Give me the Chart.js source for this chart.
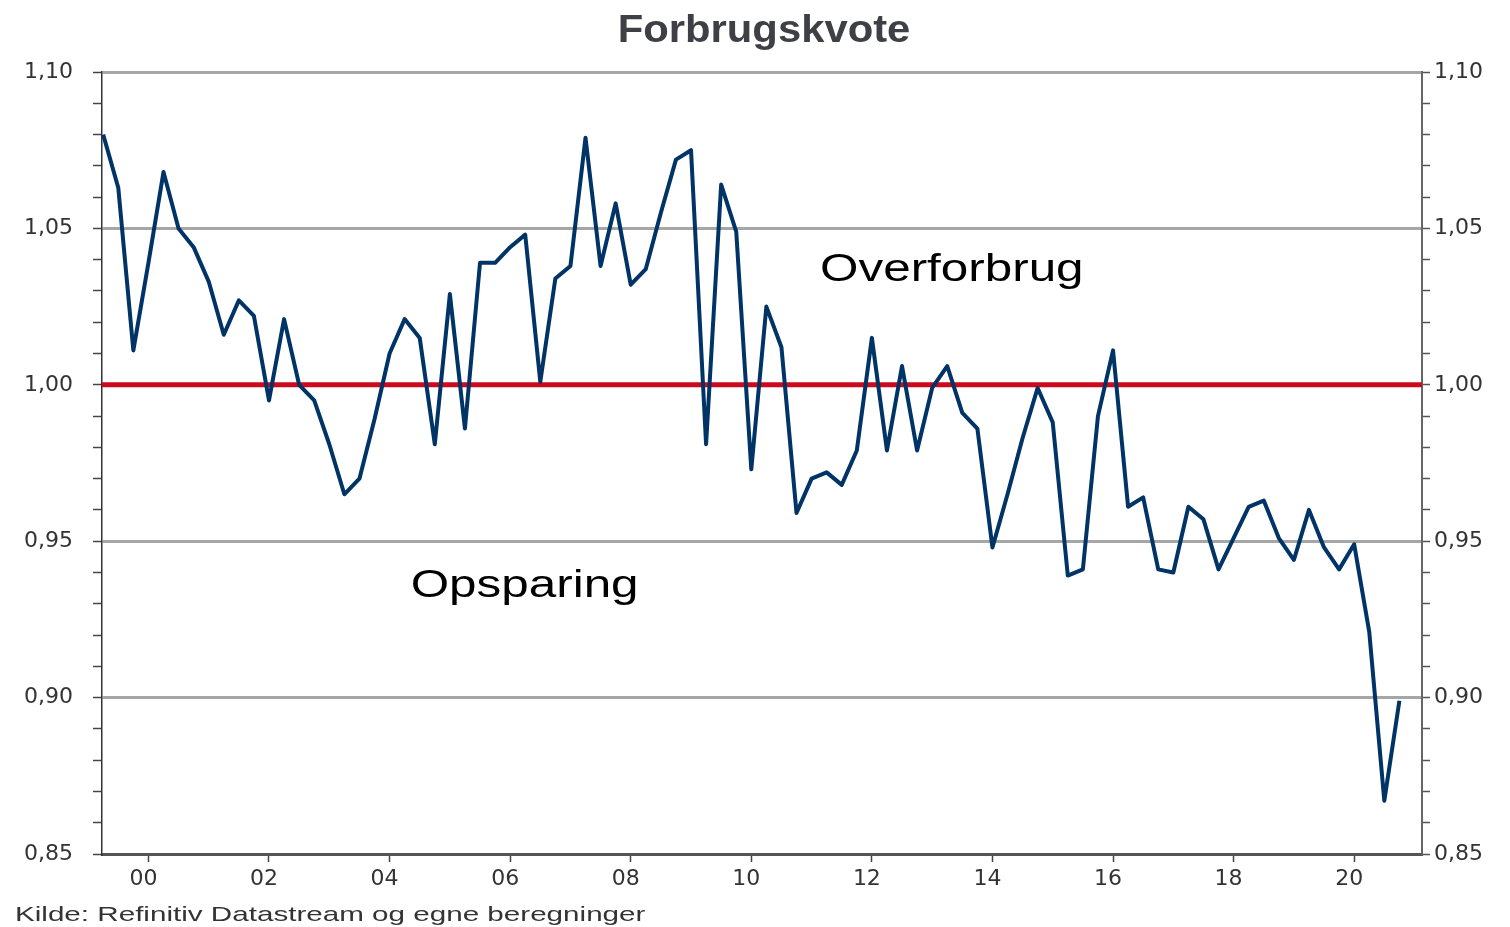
<!DOCTYPE html>
<html>
<head>
<meta charset="utf-8">
<script src="https://cdn.jsdelivr.net/npm/chart.js@4.4.1/dist/chart.umd.min.js"></script>
<style>
  html, body { margin: 0; padding: 0; background: #fff; }
  #wrap { position: relative; width: 1510px; height: 927px; overflow: hidden; }
  #chart { position: absolute; left: 0; top: 0; }
  #title {
    position: absolute; left: 9px; top: 10px; width: 1510px; text-align: center;
    font: bold 38px "Liberation Sans", Arial, sans-serif; line-height: 38px; color: #3f3f46;
  }
  #title span { display: inline-block; transform: scaleX(1.1); }
  #source {
    position: absolute; left: 15px; top: 903px; white-space: nowrap;
    font: 21px "Liberation Sans", Arial, sans-serif; line-height: 21px; color: #333;
    transform: scaleX(1.41); transform-origin: left top;
  }
</style>
</head>
<body>
<div id="wrap">
  <canvas id="chart" width="1510" height="927"></canvas>
  <div id="title"><span>Forbrugskvote</span></div>
  <div id="source">Kilde: Refinitiv Datastream og egne beregninger</div>
</div>
<script>
// kvartalsvis forbrugskvote, første observation 1999K2
const forbrugskvote = [
  1.080, 1.063, 1.011, 1.039, 1.068, 1.050, 1.044, 1.033, 1.016, 1.027,
  1.022, 0.995, 1.021, 1.000, 0.995, 0.981, 0.965, 0.970, 0.989, 1.010,
  1.021, 1.015, 0.981, 1.029, 0.986, 1.039, 1.039, 1.044, 1.048, 1.001,
  1.034, 1.038, 1.079, 1.038, 1.058, 1.032, 1.037, 1.055, 1.072, 1.075,
  0.981, 1.064, 1.049, 0.973, 1.025, 1.012, 0.959, 0.970, 0.972, 0.968,
  0.979, 1.015, 0.979, 1.006, 0.979, 0.999, 1.006, 0.991, 0.986, 0.948,
  0.965, 0.983, 0.999, 0.988, 0.939, 0.941, 0.990, 1.011, 0.961, 0.964,
  0.941, 0.940, 0.961, 0.957, 0.941, 0.951, 0.961, 0.963, 0.951, 0.944,
  0.960, 0.948, 0.941, 0.949, 0.921, 0.867, 0.899
];
const firstQuarter = 1999.25;
const yearTicks = [2000, 2002, 2004, 2006, 2008, 2010, 2012, 2014, 2016, 2018, 2020];
const yearLabels = ["00", "02", "04", "06", "08", "10", "12", "14", "16", "18", "20"];
const balance = 1.0;
const yTicks = [];
for (let h = 85; h <= 110; h++) yTicks.push(h / 100);

const xMin = 1999.23, xMax = 2021.125;
const yMin = 0.85, yMax = 1.10;

const points = forbrugskvote.map((v, i) => ({ x: firstQuarter + i / 4, y: v }));

const isMajor = v => Math.round(v * 100) % 5 === 0;
const yLabel = v => isMajor(v) ? v.toFixed(2).replace(".", ",") : "";
const tickFont = { family: "'DejaVu Sans', sans-serif", size: 22 };

const notes = {
  id: "notes",
  afterDatasetsDraw(chart, args, opts) {
    const { ctx, scales: { x, y } } = chart;
    ctx.save();
    ctx.fillStyle = "#000";
    ctx.font = '38px "Liberation Sans", Arial, sans-serif';
    opts.items.forEach(n => {
      ctx.save();
      ctx.translate(x.getPixelForValue(n.x), y.getPixelForValue(n.y));
      ctx.scale(1.3, 1);
      ctx.fillText(n.text, 0, 0);
      ctx.restore();
    });
    ctx.restore();
  }
};

new Chart(document.getElementById("chart").getContext("2d"), {
  type: "line",
  data: {
    datasets: [
      {
        data: points,
        borderColor: "#003366",
        borderWidth: 4,
        borderJoinStyle: "round",
        pointRadius: 0,
        tension: 0,
        order: 1
      },
      {
        data: [{ x: xMin, y: balance }, { x: xMax, y: balance }],
        borderColor: "#cc0a1e",
        borderWidth: 5,
        pointRadius: 0,
        order: 2
      }
    ]
  },
  options: {
    responsive: false,
    animation: false,
    layout: { padding: { top: 72, left: 0, right: 0, bottom: 0 } },
    plugins: {
      legend: { display: false },
      tooltip: { enabled: false },
      notes: {
        items: [
          { text: "Overforbrug", x: 2011.14, y: 1.0332 },
          { text: "Opsparing", x: 2004.35, y: 0.9322 }
        ]
      }
    },
    scales: {
      x: {
        type: "linear",
        min: xMin,
        max: xMax,
        afterBuildTicks: s => { s.ticks = yearTicks.map(v => ({ value: v })); },
        afterFit: s => { s.height = 73; },
        ticks: {
          autoSkip: false,
          maxRotation: 0,
          padding: 4,
          labelOffset: -5,
          color: "#333",
          font: tickFont,
          callback: v => yearLabels[yearTicks.indexOf(v)]
        },
        grid: { drawOnChartArea: false, tickLength: 8, tickColor: "#444", tickWidth: 1.5 },
        border: { display: true, color: "#555", width: 3 }
      },
      y: {
        position: "left",
        min: yMin,
        max: yMax,
        afterBuildTicks: s => { s.ticks = yTicks.map(v => ({ value: v })); },
        afterFit: s => { s.width = 102; },
        ticks: { autoSkip: false, padding: 20, color: "#333", font: tickFont, callback: yLabel },
        grid: {
          color: c => (isMajor(c.tick.value) && c.tick.value > yMin + 0.001) ? "#a6a6a6" : "rgba(0,0,0,0)",
          lineWidth: 3,
          tickLength: 9,
          tickColor: "#444",
          tickWidth: 1.5
        },
        border: { display: true, color: "#333", width: 1.5 }
      },
      y2: {
        position: "right",
        min: yMin,
        max: yMax,
        afterBuildTicks: s => { s.ticks = yTicks.map(v => ({ value: v })); },
        afterFit: s => { s.width = 88; },
        ticks: { autoSkip: false, padding: 4, color: "#333", font: tickFont, callback: yLabel },
        grid: { drawOnChartArea: false, tickLength: 8, tickColor: "#555", tickWidth: 1.5 },
        border: { display: true, color: "#666", width: 2 }
      }
    }
  },
  plugins: [notes]
});
</script>
</body>
</html>
